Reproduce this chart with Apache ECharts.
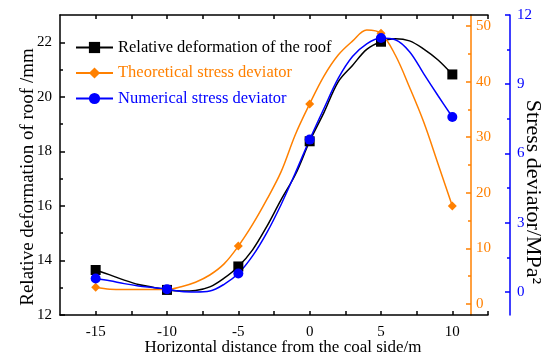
<!DOCTYPE html>
<html>
<head>
<meta charset="utf-8">
<script src="https://cdn.jsdelivr.net/npm/echarts@6/dist/echarts.min.js"></script>
<style>
  html, body { margin: 0; padding: 0; background: #fff; }
  #chart { width: 546px; height: 360px; }
</style>
</head>
<body>
<div id="chart"></div>
<script>
// distance from the coal side (m)
const xs = [-15, -14, -13, -12, -11, -10, -9, -8, -7, -6, -5, -4, -3, -2, -1, 0, 1, 2, 3, 4, 5, 6, 7, 8, 9, 10]
// positions where the curves carry a marker
const markerXs = [-15, -10, -5, 0, 5, 10]
// relative deformation of the roof (mm), left axis
const roofDeform = [13.65, 13.47, 13.28, 13.12, 13.02, 12.92, 12.88, 12.9, 13.03, 13.35, 13.78, 14.39, 15.25, 16.23, 17.15, 18.37, 19.42, 20.55, 21.15, 21.74, 22.02, 22.13, 22.05, 21.75, 21.35, 20.82]
// theoretical stress deviator, orange axis
const theoStress = [3.0, 2.65, 2.6, 2.6, 2.6, 2.6, 3.1, 3.9, 5.2, 7.2, 10.4, 14.3, 18.8, 23.8, 30.5, 36.0, 41.0, 44.8, 47.3, 49.3, 48.7, 44.8, 39.0, 32.7, 25.2, 17.6]
// numerical stress deviator, blue axis
const numStress = [0.58, 0.48, 0.36, 0.26, 0.19, 0.12, 0.02, 0.0, 0.04, 0.33, 0.8, 1.56, 2.57, 3.79, 5.16, 6.6, 7.95, 9.25, 10.2, 10.75, 11.0, 10.93, 10.41, 9.45, 8.5, 7.58]

// tick values
const xLabels = [-15, -10, -5, 0, 5, 10]
const xTickVals = [-15, -12.5, -10, -7.5, -5, -2.5, 0, 2.5, 5, 7.5, 10, 12.5]
const leftMajor = [12, 14, 16, 18, 20, 22]
const leftMinor = [13, 15, 17, 19, 21]
const orangeMajor = [0, 10, 20, 30, 40, 50]
const orangeMinor = [5, 15, 25, 35, 45]
const blueMajor = [0, 3, 6, 9, 12]
const blueMinor = [1.5, 4.5, 7.5, 10.5]

const names = ['Relative deformation of the roof', 'Theoretical stress deviator', 'Numerical stress deviator']
const BLACK = '#000000'
const ORANGE = '#FF8000'
const BLUE = '#0000FF'
const FONT = 'Liberation Serif'

function build(vals) {
  return xs.map((x, i) => markerXs.includes(x) ? [x, vals[i]] : { value: [x, vals[i]], symbol: 'none' })
}

function yMain(color, min, max, major, pos, offset, labelMargin) {
  return {
    type: 'value',
    position: pos,
    offset: offset,
    min: min,
    max: max,
    nameMoveOverlap: false,
    splitLine: { show: false },
    axisLine: { show: true, onZero: false, lineStyle: { color: color, width: 1.5 } },
    axisTick: { show: true, inside: true, length: 5, customValues: major, lineStyle: { color: color, width: 1.5 } },
    axisLabel: { customValues: major, color: color, fontFamily: FONT, fontSize: 15, margin: labelMargin }
  }
}

function yMinor(color, min, max, minor, pos, offset) {
  return {
    type: 'value',
    position: pos,
    offset: offset,
    min: min,
    max: max,
    splitLine: { show: false },
    axisLine: { show: false, onZero: false },
    axisTick: { show: true, inside: true, length: 3, customValues: minor, lineStyle: { color: color, width: 1.5 } },
    axisLabel: { show: false }
  }
}

const leftAxis = yMain(BLACK, 12, 23, leftMajor, 'left', 0, 8)
leftAxis.name = 'Relative deformation of roof /mm'
leftAxis.nameLocation = 'middle'
leftAxis.nameGap = 22
leftAxis.nameTextStyle = { color: BLACK, fontFamily: FONT, fontSize: 19, padding: [0, 24, 0, 0] }

const orangeAxis = yMain(ORANGE, -2, 52, orangeMajor, 'right', -17, 5)
const blueAxis = yMain(BLUE, -1, 12, blueMajor, 'right', 22, 7)
blueAxis.name = 'Stress deviator/MPa\u00b2'
blueAxis.nameLocation = 'middle'
blueAxis.nameRotate = -90
blueAxis.nameGap = 12
blueAxis.nameTextStyle = { color: BLACK, fontFamily: FONT, fontSize: 22, padding: [0, 0, 0, 54] }

const xBase = {
  type: 'value',
  min: -17.5,
  max: 12.5,
  nameMoveOverlap: false,
  splitLine: { show: false },
  axisLine: { show: true, onZero: false, lineStyle: { color: BLACK, width: 1.5 } },
  axisTick: { show: true, inside: true, length: 4, customValues: xTickVals, lineStyle: { color: BLACK, width: 1.5 } }
}

const chart = echarts.init(document.getElementById('chart'))
chart.setOption({
  animation: false,
  backgroundColor: '#fff',
  grid: { left: 60, right: 58, top: 15, bottom: 45, containLabel: false, outerBoundsMode: 'none' },
  legend: {
    orient: 'vertical',
    left: 75,
    top: 39,
    padding: 0,
    itemWidth: 37,
    itemHeight: 14,
    itemGap: 8.5,
    textStyle: { fontFamily: FONT, fontSize: 16.5 },
    data: [
      { name: names[0], textStyle: { color: BLACK } },
      { name: names[1], textStyle: { color: ORANGE } },
      { name: names[2], textStyle: { color: BLUE } }
    ]
  },
  xAxis: [
    Object.assign({}, xBase, {
      position: 'bottom',
      name: 'Horizontal distance from the coal side/m',
      nameLocation: 'middle',
      nameGap: 24,
      nameTextStyle: { color: BLACK, fontFamily: FONT, fontSize: 17, padding: [0, 0, 0, 18] },
      axisLabel: { customValues: xLabels, color: BLACK, fontFamily: FONT, fontSize: 15, margin: 10 }
    }),
    Object.assign({}, xBase, { position: 'top', axisLabel: { show: false } })
  ],
  yAxis: [
    leftAxis,
    yMinor(BLACK, 12, 23, leftMinor, 'left', 0),
    orangeAxis,
    yMinor(ORANGE, -2, 52, orangeMinor, 'right', -17),
    blueAxis,
    yMinor(BLUE, -1, 12, blueMinor, 'right', 22)
  ],
  series: [
    {
      name: names[0],
      type: 'line',
      xAxisIndex: 0,
      yAxisIndex: 0,
      smooth: 0.35,
      symbol: 'rect',
      symbolSize: 10,
      color: BLACK,
      lineStyle: { width: 1.5, color: BLACK },
      itemStyle: { color: BLACK },
      data: build(roofDeform)
    },
    {
      name: names[1],
      type: 'line',
      xAxisIndex: 0,
      yAxisIndex: 2,
      smooth: 0.35,
      symbol: 'diamond',
      symbolSize: 9,
      color: ORANGE,
      lineStyle: { width: 1.5, color: ORANGE },
      itemStyle: { color: ORANGE },
      data: build(theoStress)
    },
    {
      name: names[2],
      type: 'line',
      xAxisIndex: 0,
      yAxisIndex: 4,
      smooth: 0.35,
      symbol: 'circle',
      symbolSize: 10,
      color: BLUE,
      lineStyle: { width: 1.5, color: BLUE },
      itemStyle: { color: BLUE },
      data: build(numStress)
    }
  ]
})
</script>
</body>
</html>
